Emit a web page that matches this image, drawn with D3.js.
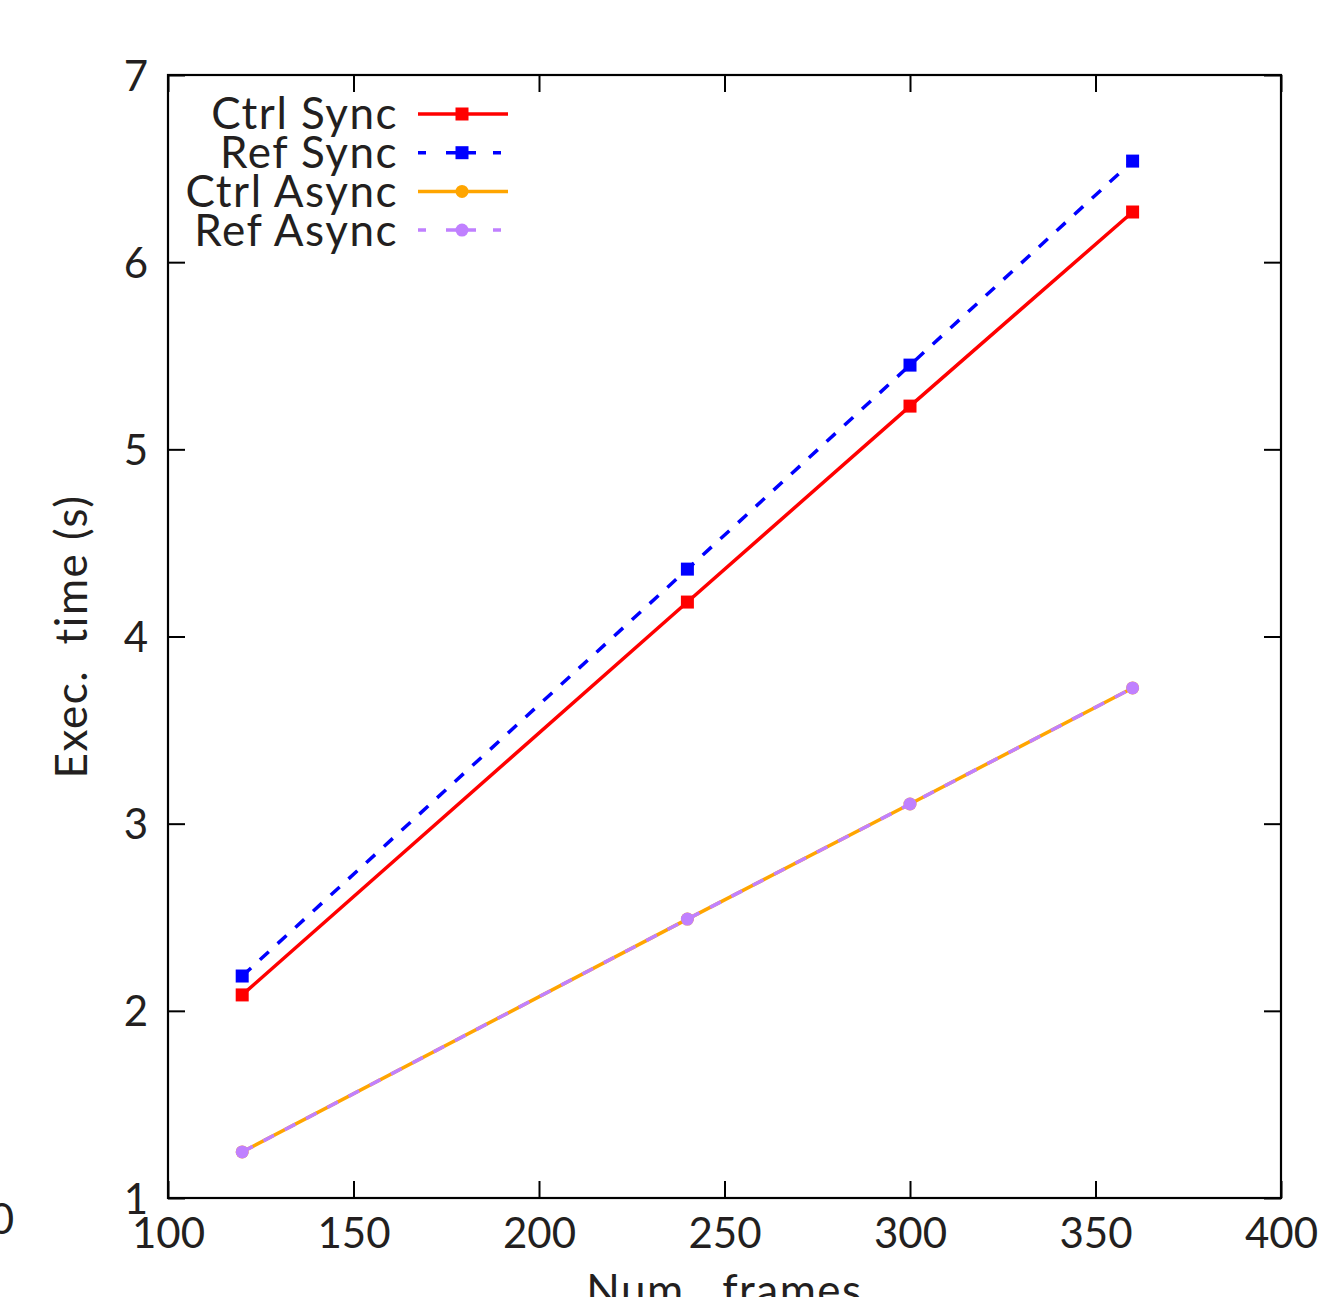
<!DOCTYPE html>
<html>
<head>
<meta charset="utf-8">
<script src="https://cdn.jsdelivr.net/npm/d3@7"></script>
<style>
  body { margin: 0; background: #fff; }
  svg { display: block; }
  text { font-family: "Lato", "DejaVu Sans", sans-serif; fill: #231f20; }
</style>
</head>
<body>
<svg id="chart" width="1337" height="1297"></svg>
<script>
// data
var frames = [120, 240, 300, 360];
var ctrlSync = [2.085, 4.184, 5.231, 6.268];
var refSync = [2.186, 4.36, 5.45, 6.54];
var ctrlAsync = [1.246, 2.49, 3.105, 3.725];
var refAsync = [1.246, 2.49, 3.105, 3.725];
var xTicks = [100, 150, 200, 250, 300, 350, 400];
var yTicks = [1, 2, 3, 4, 5, 6, 7];

var series = [
  { name: "Ctrl Sync", values: ctrlSync, color: "#ff0000", dash: null, marker: "square" },
  { name: "Ref Sync", values: refSync, color: "#0000ff", dash: "12,12", marker: "square" },
  { name: "Ctrl Async", values: ctrlAsync, color: "#ffa500", dash: null, marker: "circle" },
  { name: "Ref Async", values: refAsync, color: "#c080ff", dash: "12,12", marker: "circle" }
];

var svg = d3.select("#chart");
var margin = { top: 75, right: 56, bottom: 99, left: 168 },
    width = 1337 - margin.left - margin.right,
    height = 1297 - margin.top - margin.bottom;

var g = svg.append("g").attr("transform", "translate(" + margin.left + "," + margin.top + ")");

var x = d3.scaleLinear().domain([100, 400]).range([0, width]);
var y = d3.scaleLinear().domain([1, 7]).range([height, 0]);

var tickLen = 17;
// axes with inward ticks (mirrored on top/right)
var axisStyle = function(sel) {
  sel.select(".domain").remove();
  sel.selectAll("line").attr("stroke", "#000").attr("stroke-width", 2);
  sel.selectAll("text").attr("font-size", 42).style("fill", "#231f20");
};

g.append("g")
    .attr("transform", "translate(0," + height + ")")
    .call(d3.axisBottom(x).tickValues(xTicks).tickSize(-tickLen).tickPadding(14))
    .call(axisStyle)
    .selectAll("text").attr("dy", "0.85em");

g.append("g")
    .call(d3.axisTop(x).tickValues(xTicks).tickSize(-tickLen).tickFormat(""))
    .call(axisStyle);

g.append("g")
    .call(d3.axisLeft(y).tickValues(yTicks).tickSize(-tickLen).tickPadding(20).tickFormat(d3.format("d")))
    .call(axisStyle)
    .selectAll("text").attr("dy", "0.36em");

g.append("g")
    .attr("transform", "translate(" + width + ",0)")
    .call(d3.axisRight(y).tickValues(yTicks).tickSize(-tickLen).tickFormat(""))
    .call(axisStyle);

g.append("rect")
    .attr("width", width).attr("height", height)
    .attr("fill", "none").attr("stroke", "#000").attr("stroke-width", 2.2);

// axis titles
svg.append("text")
    .attr("transform", "translate(87," + (margin.top + height / 2) + ") rotate(-90)")
    .attr("text-anchor", "middle")
    .attr("font-size", 44)
    .attr("letter-spacing", 1.5)
    .attr("xml:space", "preserve")
    .text("Exec.  time (s)");

svg.append("text")
    .attr("x", margin.left + width / 2)
    .attr("y", 1306)
    .attr("text-anchor", "middle")
    .attr("font-size", 44)
    .attr("letter-spacing", 1.5)
    .attr("xml:space", "preserve")
    .text("Num.  frames");

// stray clipped label at the left edge
svg.append("text")
    .attr("x", 14).attr("y", 1234)
    .attr("text-anchor", "end")
    .attr("font-size", 42)
    .text("0");

var line = d3.line()
    .x(function(d, i) { return x(frames[i]); })
    .y(function(d) { return y(d); });

function drawMarker(sel, s, cx, cy) {
  if (s.marker === "square") {
    sel.append("rect")
        .attr("x", cx - 6.5).attr("y", cy - 6.5)
        .attr("width", 13).attr("height", 13)
        .attr("fill", s.color);
  } else {
    sel.append("circle")
        .attr("cx", cx).attr("cy", cy).attr("r", 6.5)
        .attr("fill", s.color);
  }
}

series.forEach(function(s) {
  g.append("path")
      .datum(s.values)
      .attr("d", line)
      .attr("fill", "none")
      .attr("stroke", s.color)
      .attr("stroke-width", 3.5)
      .attr("stroke-dasharray", s.dash);
  s.values.forEach(function(v, i) {
    drawMarker(g, s, x(frames[i]), y(v));
  });
});

// legend
var legend = svg.append("g");
series.forEach(function(s, i) {
  var ly = 114 + i * 38.7;
  legend.append("text")
      .attr("x", 398).attr("y", ly)
      .attr("dy", "0.35em")
      .attr("text-anchor", "end")
      .attr("font-size", 44)
      .attr("letter-spacing", 1.5)
      .text(s.name);
  legend.append("line")
      .attr("x1", 418).attr("x2", 508)
      .attr("y1", ly).attr("y2", ly)
      .attr("stroke", s.color)
      .attr("stroke-width", 3.5)
      .attr("stroke-dasharray", s.dash ? "8,20,30,17,8" : null);
  drawMarker(legend, s, 462, ly);
});
</script>
</body>
</html>
